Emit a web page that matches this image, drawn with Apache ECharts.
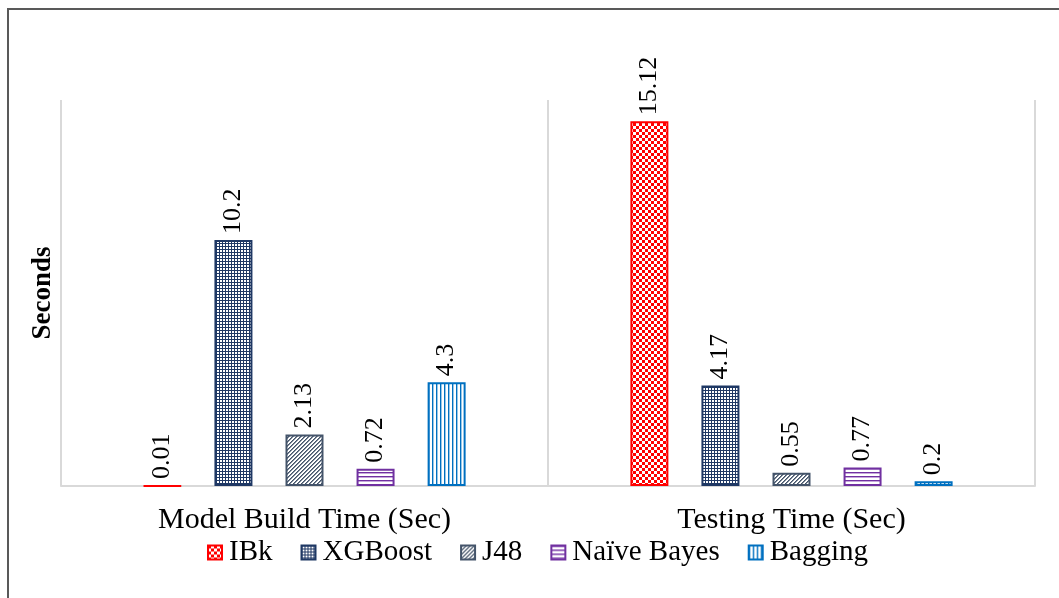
<!DOCTYPE html>
<html>
<head>
<meta charset="utf-8">
<script src="https://cdn.jsdelivr.net/npm/echarts@6/dist/echarts.min.js"></script>
<style>
  html, body { margin: 0; padding: 0; background: #ffffff; }
  #chart { width: 1059px; height: 598px; }
</style>
</head>
<body>
<div id="chart"></div>
<script>
// Chart data
const categories = ['Model Build Time (Sec)', 'Testing Time (Sec)'];
const seriesNames = ['IBk', 'XGBoost', 'J48', 'Naïve Bayes', 'Bagging'];
const ibkValues = [0.01, 15.12];
const xgboostValues = [10.2, 4.17];
const j48Values = [2.13, 0.55];
const naiveBayesValues = [0.72, 0.77];
const baggingValues = [4.3, 0.2];
const axisTitle = 'Seconds';

const FONT = '"Liberation Serif", "Times New Roman", serif';

// Small tiles used as repeating fill patterns for the bars
function tile(w, h, paint) {
  const c = document.createElement('canvas');
  c.width = w; c.height = h;
  const ctx = c.getContext('2d');
  ctx.fillStyle = '#ffffff';
  ctx.fillRect(0, 0, w, h);
  paint(ctx);
  return c;
}

const checker = tile(6, 6, ctx => {
  ctx.fillStyle = '#ff0000';
  ctx.fillRect(0, 0, 3, 3);
  ctx.fillRect(3, 3, 3, 3);
});
const grid = tile(3, 3, ctx => {
  ctx.fillStyle = '#1f3864';
  ctx.fillRect(0, 0, 3, 1);
  ctx.fillRect(0, 0, 1, 3);
});
const diagonal = tile(4, 4, ctx => {
  for (let x = 0; x < 4; x++) {
    for (let y = 0; y < 4; y++) {
      const k = (x + y) % 4;
      if (k === 0) { ctx.fillStyle = '#44546a'; ctx.fillRect(x, y, 1, 1); }
      else if (k === 1) { ctx.fillStyle = '#7f8a99'; ctx.fillRect(x, y, 1, 1); }
    }
  }
});
const horizontal = tile(1, 4, ctx => {
  ctx.fillStyle = '#7030a0';
  ctx.fillRect(0, 0, 1, 1);
  ctx.fillStyle = '#c6a6dc';
  ctx.fillRect(0, 1, 1, 1);
});
const vertical = tile(4, 1, ctx => {
  ctx.fillStyle = '#0070c0';
  ctx.fillRect(0, 0, 1, 1);
  ctx.fillStyle = '#99c6e6';
  ctx.fillRect(1, 0, 1, 1);
});

const styles = [
  { pattern: checker, border: '#ff0000' },
  { pattern: grid, border: '#1f3864' },
  { pattern: diagonal, border: '#44546a' },
  { pattern: horizontal, border: '#7030a0' },
  { pattern: vertical, border: '#0070c0' }
];
const valueSets = [ibkValues, xgboostValues, j48Values, naiveBayesValues, baggingValues];

const series = seriesNames.map((name, i) => ({
  name: name,
  type: 'bar',
  data: valueSets[i],
  barWidth: 38,
  barGap: '87%',
  itemStyle: {
    color: { image: styles[i].pattern, repeat: 'repeat' },
    borderColor: styles[i].border,
    borderWidth: 2
  },
  label: {
    show: true,
    position: 'top',
    rotate: 90,
    align: 'left',
    verticalAlign: 'middle',
    distance: 6,
    fontFamily: FONT,
    fontSize: 26,
    color: '#000000'
  }
}));

const chart = echarts.init(document.getElementById('chart'), null, { renderer: 'canvas' });
chart.setOption({
  animation: false,
  backgroundColor: '#ffffff',
  grid: { left: 61, right: 24, top: 100, bottom: 112, containLabel: false },
  legend: {
    data: seriesNames,
    bottom: 26,
    left: 202,
    itemWidth: 14,
    itemHeight: 14,
    itemGap: 28,
    icon: 'rect',
    textStyle: { fontFamily: FONT, fontSize: 29, color: '#000000', padding: [0, 0, 0, 2] }
  },
  xAxis: {
    type: 'category',
    data: categories,
    axisLine: { show: true, lineStyle: { color: '#d9d9d9', width: 2 } },
    axisTick: { show: false },
    splitLine: { show: true, lineStyle: { color: '#d9d9d9', width: 2 } },
    axisLabel: { fontFamily: FONT, fontSize: 30, color: '#000000', margin: 19 }
  },
  yAxis: {
    type: 'value',
    min: 0,
    max: 16,
    show: false
  },
  graphic: [
    {
      type: 'rect',
      shape: { x: 8, y: 9, width: 1200, height: 800 },
      style: { fill: 'none', stroke: '#595959', lineWidth: 2 },
      silent: true
    },
    {
      type: 'text',
      x: 43,
      y: 293,
      rotation: Math.PI / 2,
      style: {
        text: axisTitle,
        fontFamily: FONT,
        fontSize: 27,
        fontWeight: 'bold',
        fill: '#000000',
        align: 'center',
        verticalAlign: 'middle'
      }
    }
  ],
  series: series
});
</script>
</body>
</html>
